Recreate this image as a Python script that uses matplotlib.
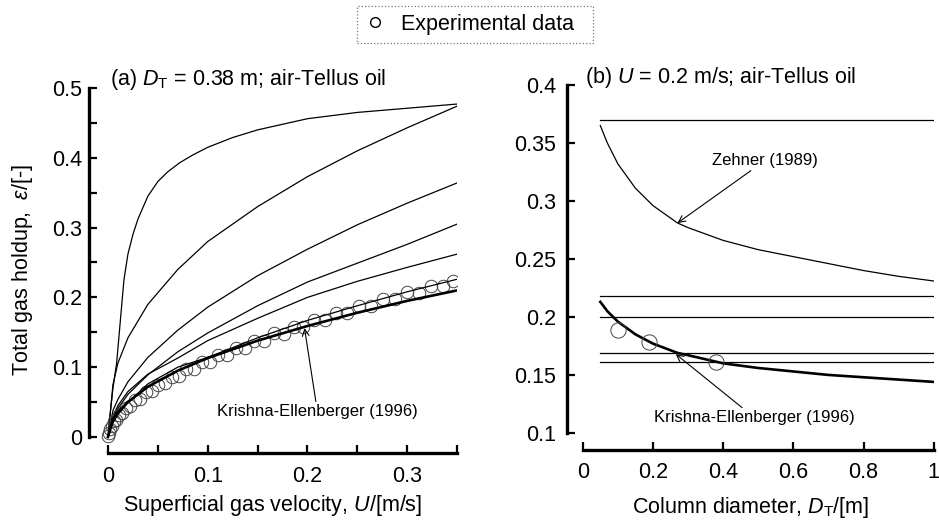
import numpy as np
import matplotlib
matplotlib.use("Agg")
import matplotlib.pyplot as plt
from matplotlib.lines import Line2D

plt.rcParams['font.family'] = ['Liberation Sans', 'DejaVu Sans']
plt.rcParams['mathtext.fontset'] = 'custom'
plt.rcParams['mathtext.rm'] = 'Liberation Sans'
plt.rcParams['mathtext.it'] = 'Liberation Sans:italic'

# ---- panel (a): holdup vs superficial gas velocity, D_T = 0.38 m ----
u_top = [0, 0.002, 0.005, 0.0087, 0.012, 0.016, 0.02, 0.025, 0.03, 0.04, 0.05, 0.06, 0.072,
         0.085, 0.1, 0.125, 0.15, 0.2, 0.25, 0.3, 0.35]
eps_top = [0, 0.03, 0.07, 0.106, 0.16, 0.225, 0.262, 0.29, 0.312, 0.345, 0.366, 0.38, 0.393,
           0.404, 0.415, 0.429, 0.44, 0.456, 0.465, 0.471, 0.477]

u_c = [0, 0.005, 0.01, 0.02, 0.04, 0.07, 0.1, 0.15, 0.2, 0.25, 0.3, 0.35]
eps_c2 = [0, 0.075, 0.106, 0.142, 0.19, 0.24, 0.28, 0.33, 0.373, 0.41, 0.443, 0.474]
eps_c3 = [0, 0.038, 0.054, 0.079, 0.114, 0.153, 0.186, 0.231, 0.269, 0.304, 0.335, 0.364]
eps_c4 = [0, 0.028, 0.041, 0.061, 0.089, 0.122, 0.149, 0.188, 0.222, 0.249, 0.276, 0.305]
eps_c5 = [0, 0.03, 0.045, 0.065, 0.09, 0.113, 0.138, 0.17, 0.2, 0.223, 0.243, 0.262]
eps_c6 = [0, 0.02, 0.032, 0.049, 0.076, 0.1, 0.114, 0.142, 0.167, 0.188, 0.208, 0.226]
eps_ke = [0, 0.025, 0.036, 0.05, 0.072, 0.095, 0.113, 0.138, 0.159, 0.178, 0.195, 0.21]

u_exp = [0.000, 0.001, 0.002, 0.004, 0.006, 0.008, 0.011, 0.014, 0.018, 0.022, 0.027,
         0.032, 0.038, 0.044, 0.050, 0.057, 0.064, 0.071, 0.078, 0.086, 0.094, 0.102,
         0.110, 0.119, 0.128, 0.137, 0.146, 0.156, 0.166, 0.176, 0.186, 0.196, 0.207,
         0.218, 0.229, 0.240, 0.252, 0.264, 0.276, 0.288, 0.300, 0.312, 0.324, 0.336, 0.346]
eps_exp = [0.002, 0.006, 0.012, 0.016, 0.023, 0.024, 0.032, 0.034, 0.042, 0.044, 0.053,
           0.055, 0.064, 0.066, 0.075, 0.077, 0.086, 0.087, 0.097, 0.097, 0.108, 0.107,
           0.118, 0.117, 0.128, 0.127, 0.138, 0.137, 0.149, 0.148, 0.158, 0.157, 0.168,
           0.167, 0.178, 0.177, 0.188, 0.187, 0.198, 0.197, 0.207, 0.206, 0.217, 0.216, 0.224]

# ---- panel (b): holdup vs column diameter, U = 0.2 m/s ----
d_line = [0.05, 1.0]
eps_flat = [0.37, 0.218, 0.2, 0.169, 0.161]

d_curve = [0.05, 0.07, 0.1, 0.15, 0.2, 0.27, 0.3, 0.4, 0.5, 0.6, 0.7, 0.8, 0.9, 1.0]
eps_zehner = [0.365, 0.35, 0.332, 0.311, 0.296, 0.281, 0.277, 0.266, 0.258, 0.252, 0.246, 0.24, 0.235, 0.231]
eps_ke_b = [0.213, 0.205, 0.196, 0.185, 0.177, 0.169, 0.167, 0.16, 0.156, 0.153, 0.15, 0.148, 0.146, 0.144]

d_exp = [0.1, 0.19, 0.38]
eps_exp_b = [0.189, 0.178, 0.161]

FS = 15.5

fig = plt.figure(figsize=(9.39, 5.21), dpi=100)
ax1 = fig.add_axes([0.0948, 0.1305, 0.392, 0.7006])
ax2 = fig.add_axes([0.6038, 0.1363, 0.3906, 0.7006])

thin = dict(color='black', lw=0.9)
for e in [eps_c2, eps_c3, eps_c4, eps_c5]:
    ax1.plot(u_c, e, **thin)
ax1.plot(u_top, eps_top, **thin)
ax1.plot(u_exp, eps_exp, 'o', ms=9, mfc='none', mec='#444444', mew=0.7)
ax1.plot(u_c, eps_c6, **thin)
ax1.plot(u_c, eps_ke, color='black', lw=1.9)

ax1.set_xlim(-0.019, 0.35)
ax1.set_ylim(-0.023, 0.5)

for e in eps_flat:
    ax2.plot(d_line, [e, e], **thin)
ax2.plot(d_curve, eps_zehner, **thin)
ax2.plot(d_curve, eps_ke_b, color='black', lw=1.9)
ax2.plot(d_exp, eps_exp_b, 'o', ms=11, mfc='none', mec='#444444', mew=0.7)
ax2.set_xlim(-0.045, 1.0)
ax2.set_ylim(0.0853, 0.4)

for ax in (ax1, ax2):
    for s in ('top', 'right'):
        ax.spines[s].set_visible(False)
    ax.spines['left'].set_linewidth(2.4)
    ax.spines['bottom'].set_linewidth(2.4)
    ax.tick_params(direction='in', length=6, width=1.6, labelsize=FS)
    ax.tick_params(axis='x', pad=9)
ax1.tick_params(axis='y', pad=5)
ax2.tick_params(axis='y', pad=8)

ax1.spines['left'].set_bounds(0, 0.5)
ax1.spines['bottom'].set_bounds(0, 0.35)
ax1.set_yticks(np.arange(0, 0.51, 0.05))
ax1.set_yticklabels(['0', '', '0.1', '', '0.2', '', '0.3', '', '0.4', '', '0.5'])
ax1.set_xticks(np.arange(0, 0.351, 0.05))
ax1.set_xticklabels(['0', '', '0.1', '', '0.2', '', '0.3', ''])

ax2.spines['left'].set_bounds(0.1, 0.4)
ax2.spines['bottom'].set_bounds(0, 1.0)
ax2.set_yticks([0.1, 0.15, 0.2, 0.25, 0.3, 0.35, 0.4])
ax2.set_yticklabels(['0.1', '0.15', '0.2', '0.25', '0.3', '0.35', '0.4'])
ax2.set_xticks([0, 0.2, 0.4, 0.6, 0.8, 1.0])
ax2.set_xticklabels(['0', '0.2', '0.4', '0.6', '0.8', '1'])

ax1.set_ylabel(r'Total gas holdup,  $\varepsilon$/[-]', fontsize=FS, labelpad=12)
ax1.set_xlabel(r'Superficial gas velocity, $U$/[m/s]', fontsize=FS, labelpad=5)
ax2.set_xlabel(r'Column diameter, $D_\mathrm{T}$/[m]', fontsize=FS, labelpad=8)

fig.text(110 / 939, 1 - 79 / 521, r'(a) $D_\mathrm{T}$ = 0.38 m; air-Tellus oil',
         fontsize=FS, va='center', ha='left')
fig.text(585 / 939, 1 - 77 / 521, r'(b) $U$ = 0.2 m/s; air-Tellus oil',
         fontsize=FS, va='center', ha='left')

arrow = dict(arrowstyle='->', color='black', lw=0.8, shrinkA=0, shrinkB=0)
ax1.annotate('Krishna-Ellenberger (1996)', xy=(0.197, 0.156), xytext=(0.21, 0.036),
             fontsize=12, ha='center', va='center', arrowprops=arrow)
ax2.annotate('Zehner (1989)', xy=(0.27, 0.281), xytext=(0.52, 0.335),
             fontsize=12, ha='center', va='center', arrowprops=arrow)
ax2.annotate('Krishna-Ellenberger (1996)', xy=(0.265, 0.168), xytext=(0.49, 0.113),
             fontsize=12, ha='center', va='center', arrowprops=arrow)

handle = Line2D([], [], ls='none', marker='o', ms=7, mfc='none', mec='black', mew=1.0)
leg = fig.legend([handle], ['Experimental data  '], loc='center',
                 bbox_to_anchor=(475 / 939, 1 - 24.5 / 521),
                 fontsize=FS, frameon=True, fancybox=False, handletextpad=0.7,
                 borderpad=0.35, handlelength=1.0)
leg.get_frame().set_linestyle(':')
leg.get_frame().set_edgecolor('#555555')
leg.get_frame().set_linewidth(0.9)

fig.savefig('out.png', dpi=100)
